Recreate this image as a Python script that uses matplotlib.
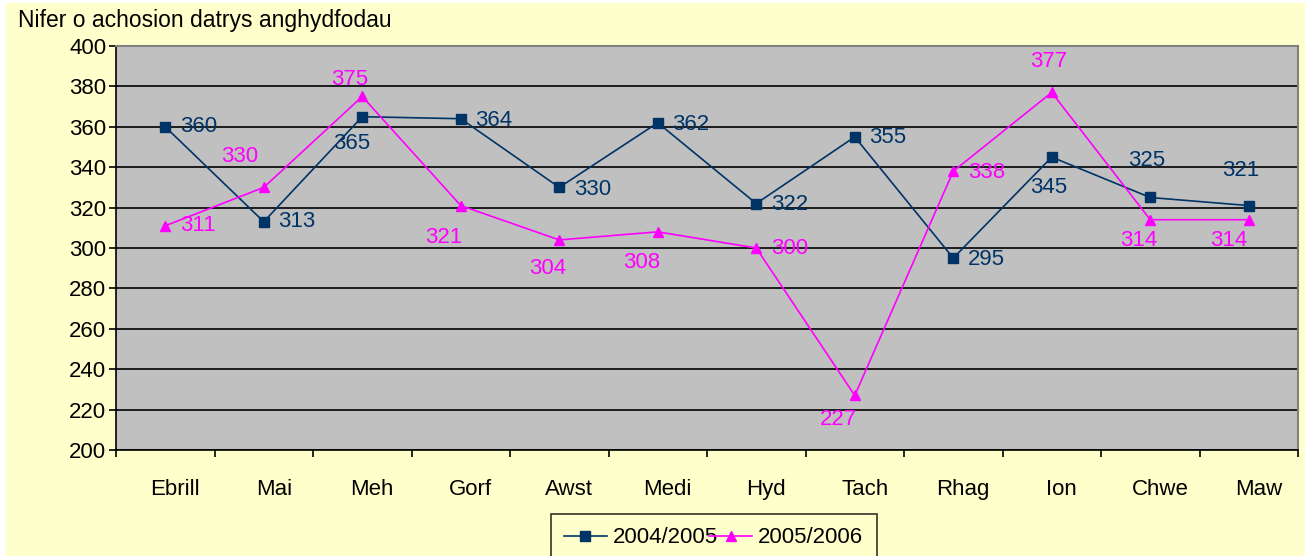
import matplotlib
matplotlib.use('Agg')
import matplotlib.pyplot as plt
import matplotlib.transforms as mtransforms
from matplotlib.lines import Line2D
from matplotlib.patches import Rectangle

plt.rcParams['font.family'] = ['Liberation Sans', 'DejaVu Sans']

months = ['Ebrill', 'Mai', 'Meh', 'Gorf', 'Awst', 'Medi', 'Hyd', 'Tach',
          'Rhag', 'Ion', 'Chwe', 'Maw']
cases_0405 = [360, 313, 365, 364, 330, 362, 322, 355, 295, 345, 325, 321]
cases_0506 = [311, 330, 375, 321, 304, 308, 300, 227, 338, 377, 314, 314]
series_names = ['2004/2005', '2005/2006']
y_title = 'Nifer o achosion datrys anghydfodau'

# label offsets in pixels (dx right, dy down), as placed in the original chart
off_0405 = [(33, 0), (33, 0), (-11, 27), (33, 2), (33, 2), (33, 2), (33, 1),
            (33, 1), (33, 1), (-3, 30), (-4, -37), (-8, -35)]
off_0506 = [(33, 0), (-24, -31), (-13, -17), (-17, 32), (-12, 29), (-16, 31),
            (33, 1), (-16, 24), (33, 1), (-3, -31), (-12, 21), (-20, 21)]

NAVY = '#003366'
MAGENTA = '#FF00FF'
BG = '#FFFFCC'

W, H = 1305, 556
fig = plt.figure(figsize=(W / 100, H / 100), dpi=100)
fig.patch.set_facecolor('white')
fig.add_artist(Rectangle((6 / W, 0), 1, 1 - 3 / H, transform=fig.transFigure,
                         facecolor=BG, edgecolor='none', zorder=-10))

ax = fig.add_axes([116 / W, 1 - 450 / H, 1182 / W, 404 / H])
ax.set_facecolor('#C0C0C0')

x = list(range(len(months)))
ax.plot(x, cases_0405, color=NAVY, lw=1.2, marker='s', ms=6.5, zorder=3)
ax.plot(x, cases_0506, color=MAGENTA, lw=1.2, marker='^', ms=7.5, zorder=3)

px = 72 / 100  # pixels -> points
for xs, ys, offs, col in [(x, cases_0405, off_0405, NAVY),
                          (x, cases_0506, off_0506, MAGENTA)]:
    for xi, yi, (dx, dy) in zip(xs, ys, offs):
        ax.annotate(str(yi), (xi, yi), xytext=(dx * px, -dy * px),
                    textcoords='offset points', ha='center', va='center',
                    color=col, fontsize=16, zorder=4)

ax.set_xlim(-0.5, len(months) - 0.5)
ax.set_ylim(200, 400)
ax.set_yticks(range(200, 401, 20))
ax.yaxis.grid(True, color='black', lw=1.2)
ax.set_axisbelow(True)
ax.tick_params(axis='y', length=5, width=1.2, labelsize=16, pad=2)

ax.set_xticks([i - 0.5 for i in range(len(months) + 1)])
ax.set_xticklabels([])
ax.set_xticks(x, minor=True)
ax.set_xticklabels(months, minor=True)
ax.tick_params(axis='x', which='major', length=5, width=1.2, direction='out')
ax.tick_params(axis='x', which='minor', length=0, labelsize=16, pad=21)
shift = mtransforms.ScaledTranslation(10 / 100, 0, fig.dpi_scale_trans)
for lab in ax.get_xticklabels(minor=True):
    lab.set_transform(lab.get_transform() + shift)

for side in ['top', 'right']:
    ax.spines[side].set_color('#808080')
    ax.spines[side].set_linewidth(1.5)
for side in ['left', 'bottom']:
    ax.spines[side].set_color('black')
    ax.spines[side].set_linewidth(1.2)

fig.text(18 / W, 1 - 21 / H, y_title, fontsize=16.5, ha='left', va='center')

handles = [Line2D([], [], color=NAVY, lw=1.2, marker='s', ms=6.5),
           Line2D([], [], color=MAGENTA, lw=1.2, marker='^', ms=7.5)]
leg = fig.legend(handles, series_names, loc='upper left',
                 bbox_to_anchor=(551 / W, 1 - 514 / H), ncol=2,
                 fontsize=16, frameon=True, fancybox=False,
                 handlelength=1.9, handletextpad=0.3, columnspacing=-0.4,
                 borderpad=0.6, borderaxespad=0)
leg.get_frame().set_edgecolor('black')
leg.get_frame().set_facecolor(BG)
leg.get_frame().set_linewidth(1.2)

fig.savefig('out.png', dpi=100)
